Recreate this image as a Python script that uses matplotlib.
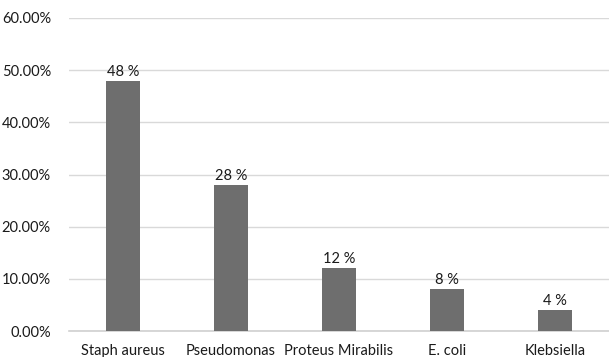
import matplotlib
matplotlib.use("Agg")
import matplotlib.pyplot as plt
from matplotlib.ticker import FuncFormatter, MultipleLocator

plt.rcParams['font.family'] = ['Lato', 'DejaVu Sans']

categories = ["Staph aureus", "Pseudomonas", "Proteus Mirabilis", "E. coli", "Klebsiella"]
values = [48, 28, 12, 8, 4]
value_labels = ["48 %", "28 %", "12 %", "8 %", "4 %"]

fig = plt.figure(figsize=(6.09, 3.57), dpi=100)
ax = fig.add_axes([0.1133, 0.0728, 0.8867, 0.8768])

x = list(range(len(categories)))
bars = ax.bar(x, values, width=0.31, color="#6e6e6e", zorder=3)

for xi, v, lab in zip(x, values, value_labels):
    ax.text(xi, v + 0.4, lab, ha="center", va="bottom", fontsize=10.5, color="#1a1a1a")

ax.set_xlim(-0.5, len(categories) - 0.5)
ax.set_ylim(0, 60)
ax.yaxis.set_major_locator(MultipleLocator(10))
ax.yaxis.set_major_formatter(FuncFormatter(lambda v, p: f"{v:.2f}%"))
ax.set_xticks(x)
ax.set_xticklabels(categories)

ax.grid(axis="y", color="#d9d9d9", linewidth=1, zorder=0)
for s in ["top", "right", "left"]:
    ax.spines[s].set_visible(False)
ax.spines["bottom"].set_color("#d0d0d0")
ax.spines["bottom"].set_linewidth(1.2)
ax.tick_params(axis="both", length=0, labelsize=10.5, colors="#1a1a1a")
ax.tick_params(axis="y", pad=13)
ax.tick_params(axis="x", pad=9)

fig.savefig("out.png", dpi=100)
